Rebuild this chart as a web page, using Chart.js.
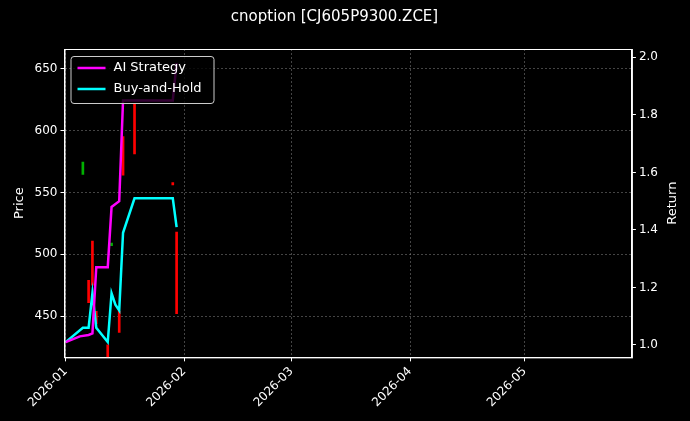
<!DOCTYPE html>
<html><head><meta charset="utf-8">
<script src="https://cdn.jsdelivr.net/npm/chart.js@4"></script>
<style>html,body{margin:0;background:#000;}#w{width:690px;height:421px;}</style>
</head><body><div id="w"><canvas id="c"></canvas></div>
<script>
// day offsets from 2026-01-01
const candleDays = [4.5, 6, 7, 8, 11, 12, 14, 15, 18, 28, 29];
const candleLow  = [564.5, 461, 475, 444, 416, 507, 437, 564, 581, 556, 452];
const candleHigh = [574.5, 479, 510.6, 454, 427, 509, 454, 595, 622, 558, 518];
const candleUp   = [true, false, false, false, false, true, false, false, false, false, false];
const aiDays = [0, 3.7, 6, 7, 8, 11, 12, 14, 15, 28, 29];
const aiRet  = [1.01, 1.03, 1.035, 1.04, 1.27, 1.27, 1.48, 1.50, 1.85, 1.85, 1.98];
const bhDays = [0, 4.5, 6, 7, 8, 11, 12, 13, 14, 15, 18, 28, 29];
const bhRet  = [1.01, 1.06, 1.06, 1.18, 1.06, 1.01, 1.18, 1.14, 1.12, 1.39, 1.51, 1.51, 1.41];
const monthDays = [0, 31, 59, 90, 120];
const monthLabels = ['2026-01','2026-02','2026-03','2026-04','2026-05'];
const priceTicks = [450, 500, 550, 600, 650];
const retTicks = [1.0, 1.2, 1.4, 1.6, 1.8, 2.0];

const F = 'DejaVu Sans';
const grid = {color:'rgba(150,150,150,0.45)', tickColor:'#fff', tickLength:4, drawTicks:true};
const brd = {color:'#fff', dash:[2,2]};
const extras = {
  id:'extras',
  afterDraw(ch){
    const a = ch.chartArea, c = ch.ctx;
    c.save();
    // full frame
    c.strokeStyle='#fff'; c.lineWidth=1; c.strokeRect(a.left+0.5,a.top+0.5,a.right-a.left,a.bottom-a.top);
    // right title
    c.fillStyle='#fff'; c.font='13px '+F; c.textAlign='center'; c.textBaseline='middle';
    c.translate(673,(a.top+a.bottom)/2); c.rotate(-Math.PI/2); c.fillText('Return',0,0);
    c.restore(); c.save();
    const x = a.left+6, y = a.top+7, w = 143, h = 47;
    c.fillStyle='rgba(0,0,0,0.8)'; c.strokeStyle='#ccc'; c.lineWidth=1;
    c.beginPath(); c.roundRect(x+0.5,y+0.5,w,h,3); c.fill(); c.stroke();
    c.font = '13px '+F; c.textBaseline='middle'; c.fillStyle='#fff';
    [['AI Strategy','#ff00ff'],['Buy-and-Hold','#00ffff']].forEach((it,i)=>{
      const yy = y+12+i*21;
      c.strokeStyle=it[1]; c.lineWidth=2.5; c.beginPath(); c.moveTo(x+7,yy); c.lineTo(x+35,yy); c.stroke();
      c.fillText(it[0], x+43, yy);
    });
    c.restore();
  }
};
new Chart(document.getElementById('c'), {
  data:{datasets:[
    {type:'bar', yAxisID:'y', data:candleDays.map((d,i)=>({x:d,y:[candleLow[i],candleHigh[i]]})),
     backgroundColor:candleUp.map(u=>u?'#00b000':'#ff0000'), barThickness:2, grouped:false, order:3},
    {type:'line', label:'AI Strategy', yAxisID:'y1', data:aiDays.map((d,i)=>({x:d,y:aiRet[i]})),
     borderColor:'#ff00ff', borderWidth:2.5, pointRadius:0, tension:0, order:1},
    {type:'line', label:'Buy-and-Hold', yAxisID:'y1', data:bhDays.map((d,i)=>({x:d,y:bhRet[i]})),
     borderColor:'#00ffff', borderWidth:2.5, pointRadius:0, tension:0, order:2}
  ]},
  options:{
    responsive:true, maintainAspectRatio:false, animation:false,
    layout:{padding:{left:8,right:29,top:0,bottom:8}},
    plugins:{legend:{display:false}, tooltip:{enabled:false},
      title:{display:true, text:'cnoption [CJ605P9300.ZCE]', color:'#fff', font:{family:F,size:15,weight:'normal'}, padding:{top:8,bottom:23}}},
    scales:{
      x:{type:'linear', offset:false, min:-0.3, max:148, grid:{...grid, offset:false}, border:brd,
         afterBuildTicks:s=>{s.ticks=monthDays.map(v=>({value:v}));},
         ticks:{color:'#fff', font:{family:F,size:12}, maxRotation:45, minRotation:45, autoSkip:false,
           callback:v=>monthLabels[monthDays.indexOf(v)]}},
      y:{position:'left', min:416.8, max:665.8, grid:grid, border:brd,
         afterBuildTicks:s=>{s.ticks=priceTicks.map(v=>({value:v}));},
         title:{display:true,text:'Price',color:'#fff',font:{family:F,size:13}},
         ticks:{color:'#fff', font:{family:F,size:12}}},
      y1:{position:'right', min:0.957, max:2.029, grid:{drawOnChartArea:false,tickColor:'#fff',tickLength:4}, border:{color:'#fff'},
         afterBuildTicks:s=>{s.ticks=retTicks.map(v=>({value:v}));},
         ticks:{color:'#fff', font:{family:F,size:12}, callback:v=>v.toFixed(1)}}
    }
  },
  plugins:[extras]
});
</script></body></html>
